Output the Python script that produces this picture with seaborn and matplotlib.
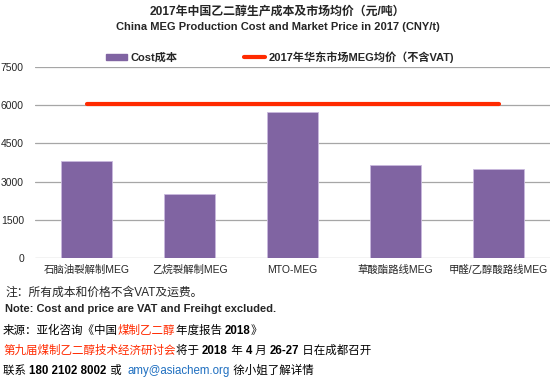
import matplotlib
matplotlib.use("Agg")
import matplotlib.pyplot as plt
import seaborn as sns
import pandas as pd
from matplotlib.patches import Patch
from matplotlib.lines import Line2D

routes = ["石脑油裂解制MEG", "乙烷裂解制MEG", "MTO-MEG", "草酸酯路线MEG", "甲醛/乙醇酸路线MEG"]
cost = [3800, 2500, 5730, 3650, 3480]
market_price = [6060, 6060, 6060, 6060, 6060]
yticks = [0, 1500, 3000, 4500, 6000, 7500]

df = pd.DataFrame({"route": routes, "cost": cost, "price": market_price})

sns.set_theme(style="white")
plt.rcParams["font.family"] = ["Liberation Sans", "Noto Sans CJK SC"]

fig = plt.figure(figsize=(5.55, 3.85), dpi=100)
ax = fig.add_axes([35 / 555, 1 - 258 / 385, 515 / 555, 191 / 385])

sns.barplot(data=df, x="route", y="cost", color="#8064A2", width=0.5,
            saturation=1, edgecolor="#C9B9DE", linewidth=0.6, ax=ax, zorder=3)
sns.lineplot(data=df, x="route", y="price", color="#FF2A00", linewidth=3,
             sort=False, ax=ax, zorder=4)

ax.set_ylim(0, 7500)
ax.set_yticks(yticks)
ax.set_xlim(-0.5, 4.5)
ax.grid(axis="y", color="#A6A6A6", linewidth=0.9, zorder=0)
for s in ax.spines.values():
    s.set_visible(False)
ax.set_xlabel("")
ax.set_ylabel("")
ax.tick_params(axis="y", labelsize=7.5, length=0, pad=8)
ax.tick_params(axis="x", labelsize=7.5, length=0, pad=5)

fig.text(0.5, 1 - 12 / 385, "2017年中国乙二醇生产成本及市场均价（元/吨）",
         ha="center", va="center", fontsize=8.6, fontweight="bold")
fig.text(0.5, 1 - 27 / 385, "China MEG Production Cost and Market Price in 2017 (CNY/t)",
         ha="center", va="center", fontsize=8, fontweight="bold")

handles = [Patch(facecolor="#8064A2", edgecolor="#8064A2"),
           Line2D([0], [0], color="#FF2A00", linewidth=3)]
labels = ["Cost成本", "2017年华东市场MEG均价（不含VAT)"]
fig.legend(handles, labels, loc="center", bbox_to_anchor=(0.505, 1 - 57 / 385),
           ncol=2, frameon=False, handlelength=1.9, handleheight=0.45,
           handletextpad=0.3, columnspacing=6, prop={"size": 8, "weight": "bold"})

fig.text(5 / 555, 1 - 293 / 385, "注：所有成本和价格不含VAT及运费。",
         ha="left", va="center", fontsize=8.5)
fig.text(5 / 555, 1 - 309 / 385, "Note: Cost and price are VAT and Freihgt excluded.",
         ha="left", va="center", fontsize=8, fontweight="bold")


def seg_line(y, parts, size=8.3):
    prev = None
    for txt, color, weight in parts:
        if prev is None:
            prev = fig.text(3 / 555, y, txt, ha="left", va="baseline",
                            fontsize=size, color=color, fontweight=weight)
        else:
            prev = ax.annotate(txt, xy=(1, 0), xycoords=prev, ha="left",
                               va="bottom", fontsize=size, color=color,
                               fontweight=weight, annotation_clip=False)


seg_line(1 - 334 / 385, [("来源：亚化咨询《中国", "black", "normal"),
                         ("煤制乙二醇", "#FF2A00", "normal"),
                         ("年度报告 ", "black", "normal"),
                         ("2018", "black", "bold"),
                         ("》", "black", "normal")])
seg_line(1 - 354 / 385, [("第九届煤制乙二醇技术经济研讨会", "#FF2A00", "normal"),
                         ("将于 ", "black", "normal"),
                         ("2018", "black", "bold"),
                         (" 年 ", "black", "normal"),
                         ("4", "black", "bold"),
                         (" 月 ", "black", "normal"),
                         ("26-27", "black", "bold"),
                         (" 日在成都召开", "black", "normal")])
seg_line(1 - 374 / 385, [("联系 ", "black", "normal"),
                         ("180 2102 8002", "black", "bold"),
                         (" 或  ", "black", "normal"),
                         ("amy@asiachem.org", "#1F6FC0", "normal"),
                         (" 徐小姐了解详情", "black", "normal")])

fig.savefig("out.png", dpi=100)
